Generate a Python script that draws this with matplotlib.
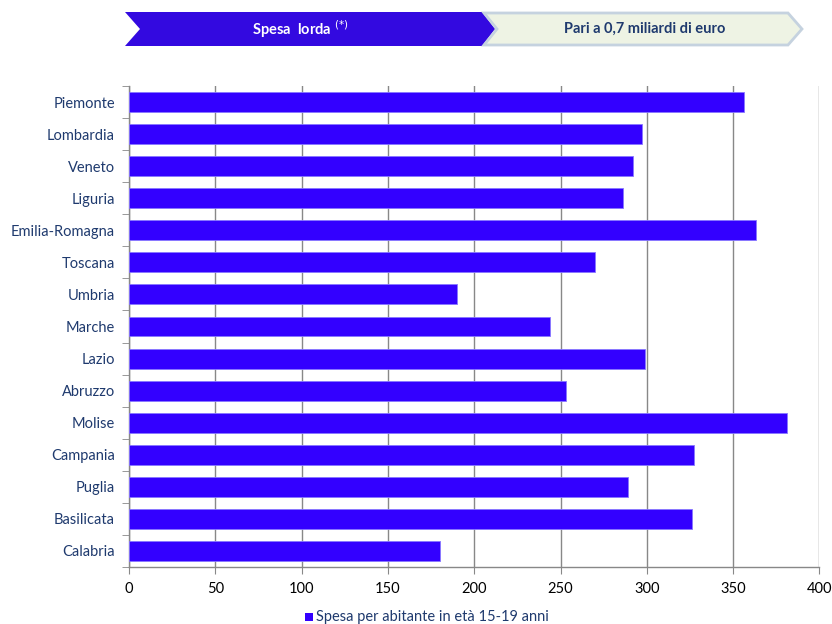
import numpy as np
import matplotlib.pyplot as plt
from matplotlib.patches import Polygon, Rectangle

regions = ["Piemonte", "Lombardia", "Veneto", "Liguria", "Emilia-Romagna", "Toscana",
           "Umbria", "Marche", "Lazio", "Abruzzo", "Molise", "Campania", "Puglia",
           "Basilicata", "Calabria"]
spesa = [356.5, 297.4, 292.2, 286.4, 363.5, 270.1, 190.1, 244.1, 299.1, 253.3,
         381.4, 327.5, 289.3, 326.4, 180.3]
xticks = [0, 50, 100, 150, 200, 250, 300, 350, 400]

plt.rcParams['font.family'] = ['Lato', 'DejaVu Sans']
W, H = 832, 624
bar_color = '#3300FF'
label_color = '#1F3A6E'

fig = plt.figure(figsize=(W / 100, H / 100), dpi=100)
ax = fig.add_axes([129 / W, 1 - 567 / H, (819.5 - 129) / W, (567 - 86) / H])

y = np.arange(len(regions))
ax.barh(y, spesa, height=0.62, color=bar_color, edgecolor='#8877ff', linewidth=0.6, zorder=3)
ax.set_ylim(len(regions) - 0.5, -0.5)
ax.set_xlim(0, 400)
ax.set_xticks(xticks)
ax.set_xticklabels([str(t) for t in xticks], fontsize=10.5, color='black')
ax.set_yticks(y)
ax.set_yticklabels(regions, fontsize=10.5, color=label_color)
ax.set_yticks(np.arange(-0.5, len(regions)), minor=True)
ax.tick_params(axis='y', which='major', length=0, pad=10)
ax.tick_params(axis='y', which='minor', length=5, color='#888888', direction='out')
ax.tick_params(axis='x', length=5, color='#888888', direction='out', pad=6)
ax.grid(axis='x', color='#888888', linewidth=1, zorder=0)
for s in ['top', 'right']:
    ax.spines[s].set_visible(False)
for s in ['left', 'bottom']:
    ax.spines[s].set_color('#888888')
    ax.spines[s].set_linewidth(1)

def fx(px):
    return px / W

def fy(py):
    return 1 - py / H

# header chevrons
left = [(125, 12), (482, 12), (495, 29), (482, 46), (125, 46), (140, 29)]
fig.patches.append(Polygon([(fx(a), fy(b)) for a, b in left], closed=True,
                           transform=fig.transFigure, facecolor='#3309E0', edgecolor='none'))
right = [(484, 13), (788, 13), (802, 29), (788, 45), (484, 45), (497, 29)]
fig.patches.append(Polygon([(fx(a), fy(b)) for a, b in right], closed=True,
                           transform=fig.transFigure, facecolor='#EEF3E4', edgecolor='#C5D2DF',
                           linewidth=2))
fig.text(fx(300), fy(29), 'Spesa  lorda $^{(*)}$', color='white', fontsize=10.5,
         fontweight='bold', ha='center', va='center')
fig.text(fx(645), fy(29), 'Pari a 0,7 miliardi di euro', color='#1F3A6E', fontsize=10.5,
         fontweight='bold', ha='center', va='center')

# legend
fig.patches.append(Rectangle((fx(305), fy(621)), 8 / W, 8 / H, transform=fig.transFigure,
                             facecolor=bar_color, edgecolor='none'))
fig.text(fx(316), fy(617), 'Spesa per abitante in età 15-19 anni', color=label_color,
         fontsize=10.5, ha='left', va='center')

fig.savefig('out.png', dpi=100)
